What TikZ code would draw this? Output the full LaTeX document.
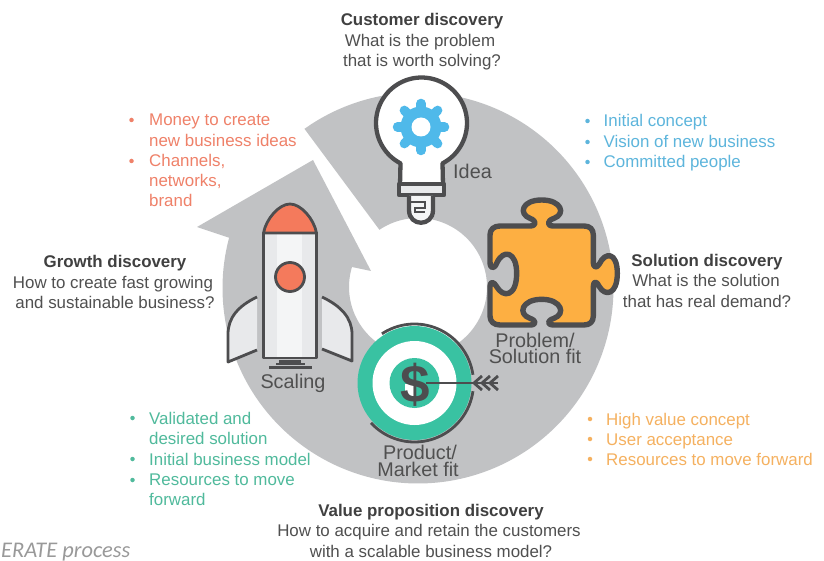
\documentclass[tikz,border=0pt]{standalone}
\usepackage{fontspec}
\setmainfont{Liberation Sans}
\newfontfamily\capfont{Carlito}
\definecolor{ringgray}{HTML}{C1C2C4}
\definecolor{inkdark}{HTML}{4D4D4F}
\definecolor{lightpart}{HTML}{E8E9EB}
\definecolor{palepart}{HTML}{F4F5F6}
\definecolor{rocketred}{HTML}{F47A5C}
\definecolor{gearblue}{HTML}{4FB9EA}
\definecolor{targetgreen}{HTML}{39C2A2}
\definecolor{puzzleorange}{HTML}{FDAF42}
\definecolor{listblue}{HTML}{5DB5DC}
\definecolor{listred}{HTML}{EF8169}
\definecolor{listgreen}{HTML}{50BA9C}
\definecolor{listorange}{HTML}{F5B160}
\definecolor{bodytext}{HTML}{505050}
\tikzset{
  headtext/.style={anchor=base,font=\fontsize{16.9}{17}\selectfont\bfseries,text=black!75,inner sep=0pt},
  subtext/.style={anchor=base,font=\fontsize{16.9}{17}\selectfont,text=bodytext,inner sep=0pt},
  lbltext/.style={anchor=base,font=\fontsize{19.8}{20}\selectfont,text=bodytext,inner sep=0pt},
  itemtext/.style={anchor=base west,font=\fontsize{16.9}{17}\selectfont,inner sep=0pt},
  bulletdot/.style={circle,inner sep=0pt,minimum size=4.5pt},
  outline/.style={draw=inkdark,line width=4.3pt,line join=round},
  thinline/.style={draw=inkdark,line width=2.8pt,line join=round}
}
\begin{document}
\begin{tikzpicture}[x=1pt,y=-1pt]
\useasboundingbox[fill=white] (0,0) rectangle (824,561);
% ring with arrow
\fill[ringgray]
  plot[smooth,domain=125.5:-194.9,samples=120] ({418+195.5*cos(\x)},{288-195.5*sin(\x)})
  -- (197,227) -- (313,160) -- (371,271) -- (352,267)
  -- plot[smooth,domain=162.4:484,samples=120] ({418+69*cos(\x)},{287-69*sin(\x)})
  -- cycle;
% bulb
\path[outline,fill=white]
  (400,185) -- plot[smooth,domain=242.5:-62.5,samples=80] ({421.5+45.5*cos(\x)},{123-45.5*sin(\x)}) -- (443,185);
\path[outline,fill=lightpart] (399,184) rectangle (444,195);
\path[outline,fill=palepart] (409,196) -- (409,210) .. controls (409,227) and (433,227) .. (433,210) -- (433,196);
\draw[inkdark,line width=2.4pt] (410,202) -- (425,202) -- (425,208) -- (415,208) -- (415,212) -- (425,212);
% gear
\fill[gearblue] (421,127) circle (20.5);
\foreach \a in {0,45,...,315}
  \draw[gearblue,line width=9.5pt,line cap=round] ({421+18*cos(\a)},{127+18*sin(\a)}) -- ({421+23.5*cos(\a)},{127+23.5*sin(\a)});
\fill[white] (421,127) circle (9.5);
% puzzle
\begin{scope}[shift={(480,190)},x=0.3333pt,y=-0.3333pt]
\path[draw=inkdark,line width=5.4pt,line join=round,fill=puzzleorange]
  (30,135) .. controls (30,118) and (42,108) .. (60,108) -- (150,108)
  .. controls (170,108) and (170,92) .. (150,85)
  .. controls (115,72) and (125,30) .. (185,30)
  .. controls (245,30) and (258,72) .. (222,85)
  .. controls (200,92) and (200,108) .. (220,108) -- (312,108)
  .. controls (330,108) and (340,118) .. (340,135) -- (340,215)
  .. controls (340,235) and (350,235) .. (358,222)
  .. controls (375,185) and (412,185) .. (412,250)
  .. controls (412,315) and (375,320) .. (358,290)
  .. controls (350,272) and (340,272) .. (340,290) -- (340,378)
  .. controls (340,395) and (330,405) .. (312,405) -- (222,405)
  .. controls (200,405) and (200,392) .. (222,385)
  .. controls (258,372) and (245,328) .. (185,328)
  .. controls (125,328) and (112,372) .. (150,385)
  .. controls (170,392) and (170,405) .. (150,405) -- (60,405)
  .. controls (42,405) and (30,395) .. (30,378) -- (30,290)
  .. controls (30,272) and (42,275) .. (50,290)
  .. controls (70,325) and (110,320) .. (110,250)
  .. controls (110,185) and (70,175) .. (50,220)
  .. controls (42,238) and (30,238) .. (30,215) -- cycle;
\end{scope}
% target
\fill[targetgreen] (414.5,383) circle (57);
\fill[white] (414.5,383) circle (42);
\fill[targetgreen] (414.5,383) circle (25);
\draw[thinline] plot[smooth,domain=123.5:8,samples=40] ({414.5+59*cos(\x)},{383-59*sin(\x)});
\draw[thinline] plot[smooth,domain=-8:-137.5,samples=50] ({414.5+59*cos(\x)},{383-59*sin(\x)});
\fill[white] (405,384) rectangle (416,396);
\node[anchor=base,font=\fontsize{53}{53}\selectfont\bfseries,text=inkdark,inner sep=0pt] (dollar) at (415.5,402) {\$};
\draw[inkdark,line width=2.8pt] (426,383) -- (498,383);
\foreach \q in {474,482,490}
  \draw[inkdark,line width=2.8pt] (\q,383) -- (\q+8,376);
\foreach \q in {474,482,490}
  \draw[inkdark,line width=2.8pt] (\q,383) -- (\q+8,390);
% rocket
\path[thinline,fill=lightpart] (257,297) .. controls (238,306) and (228,318) .. (228,334) -- (228,362) -- (257,350);
\path[thinline,fill=lightpart] (322,297) .. controls (341,306) and (352,318) .. (352,334) -- (352,361) -- (322,349);
\fill[lightpart] (263.5,233) rectangle (316.5,358);
\fill[palepart] (277,233) rectangle (302,358);
\path[thinline] (263.5,233) rectangle (316.5,358);
\path[thinline,fill=rocketred] (263.5,233) .. controls (266,219) and (279,204) .. (290,204) .. controls (301,204) and (314,219) .. (316.5,233) -- cycle;
\path[thinline,fill=rocketred] (290,277) circle (14.5);
\fill[inkdark] (279,360) rectangle (301,364);
\fill[inkdark] (276,363) rectangle (305,365);
\fill[inkdark] (269,366) rectangle (312,369);
% labels
\node[lbltext] (idea) at (472.5,179) {Idea};
\node[lbltext] (prob) at (535,347.5) {Problem/};
\node[lbltext] (sol) at (535,363) {Solution fit};
\node[lbltext] (scal) at (293,388) {Scaling};
\node[lbltext] (prod) at (420,459) {Product/};
\node[lbltext] (mark) at (418,476) {Market fit};
% headings
\node[headtext] (h1) at (422,26) {Customer discovery};
\node[subtext] (h1a) at (420,47) {What is the problem};
\node[subtext] (h1b) at (422,67) {that is worth solving?};
\node[headtext] (h2) at (707,266) {Solution discovery};
\node[subtext] (h2a) at (706,287) {What is the solution};
\node[subtext] (h2b) at (707,307) {that has real demand?};
\node[headtext] (h3) at (431,516) {Value proposition discovery};
\node[subtext] (h3a) at (429,536) {How to acquire and retain the customers};
\node[subtext] (h3b) at (431,557) {with a scalable business model?};
\node[headtext] (h4) at (115,267) {Growth discovery};
\node[subtext] (h4a) at (113,288) {How to create fast growing};
\node[subtext] (h4b) at (115,308) {and sustainable business?};
% blue list
\foreach \n/\y/\t in {a/127/Initial concept,b/148/Vision of new business,c/168/Committed people}{
  \node[itemtext,text=listblue] (bl\n) at (603.5,\y) {\t};
  \node[bulletdot,fill=listblue] (bd\n) at (587.5,\y-6) {};
}
% red list
\foreach \n/\y/\t in {a/126/Money to create,b/147/new business ideas,c/167/{Channels,},d/187/{networks,},e/207/brand}{
  \node[itemtext,text=listred] (rl\n) at (149,\y) {\t};
}
\node[bulletdot,fill=listred] (rda) at (131.5,120) {};
\node[bulletdot,fill=listred] (rdc) at (131.5,161) {};
% green list
\foreach \n/\y/\t in {a/424/Validated and,b/444/desired solution,c/465/Initial business model,d/485/Resources to move,e/505/forward}{
  \node[itemtext,text=listgreen] (gl\n) at (149,\y) {\t};
}
\node[bulletdot,fill=listgreen] (gda) at (132.5,418) {};
\node[bulletdot,fill=listgreen] (gdc) at (132.5,459) {};
\node[bulletdot,fill=listgreen] (gdd) at (132.5,480) {};
% orange list
\foreach \n/\y/\t in {a/425/High value concept,b/445/User acceptance,c/465/Resources to move forward}{
  \node[itemtext,text=listorange] (ol\n) at (606,\y) {\t};
  \node[bulletdot,fill=listorange] (od\n) at (590,\y-6) {};
}
% caption
\node[anchor=base west,inner sep=0pt,font=\capfont\itshape\fontsize{22.4}{22}\selectfont,text=black!40] (cap) at (1,557) {ERATE process};
\end{tikzpicture}
\end{document}
